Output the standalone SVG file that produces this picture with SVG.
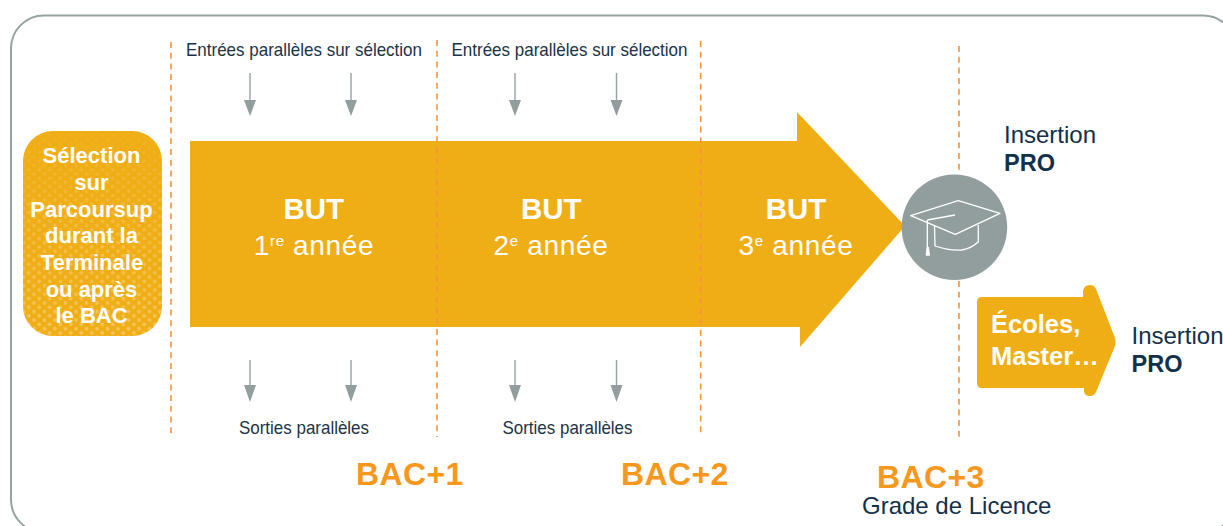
<svg xmlns="http://www.w3.org/2000/svg" width="1223" height="526" viewBox="0 0 1223 526">
<style>
text{font-family:"Liberation Sans",Arial,sans-serif}
.sm{font-size:18.500px;fill:#1b3345;text-anchor:middle}
.dash{stroke:#f4943f;stroke-width:1.6;stroke-dasharray:6 4.700;fill:none}
.ar{stroke:#97a1a1;stroke-width:1.4;fill:none}
.hd{fill:#929e9e}
.but{fill:#fff;font-size:29.500px;font-weight:bold;text-anchor:middle}
.yr{fill:#fff;font-size:28px;text-anchor:middle;letter-spacing:.65px}
.sup{font-size:15px}
.sel{fill:#fff;font-size:22px;font-weight:bold;text-anchor:middle}
.bac{fill:#f7981d;font-size:32px;font-weight:bold;letter-spacing:.4px}
.ins{fill:#11304a;font-size:24px}
.pro{fill:#11304a;font-size:23.500px;font-weight:bold}
.ec{fill:#fff;font-size:25.500px;font-weight:bold}
</style>
<defs>
<pattern id="dots" width="10.500" height="8.600" patternUnits="userSpaceOnUse">
<circle cx="2.500" cy="2" r="1.900" fill="#f9d68e" fill-opacity=".6"/>
<circle cx="7.750" cy="6.300" r="1.900" fill="#f9d68e" fill-opacity=".6"/>
</pattern>
<linearGradient id="fade" x1="0" y1="0" x2="0" y2="1">
<stop offset="0" stop-color="#fff" stop-opacity=".1"/>
<stop offset=".4" stop-color="#fff" stop-opacity=".55"/>
<stop offset="1" stop-color="#fff"/>
</linearGradient>
<mask id="fm"><rect x="23" y="131" width="139" height="205" fill="url(#fade)"/></mask>
</defs>
<rect id="frame" x="11" y="15.500" width="1225" height="517" rx="33" fill="#fff" stroke="#97a3a3" stroke-width="2"/>
<g id="selection">
<rect x="23" y="131" width="139" height="205" rx="30" fill="#f0ae16"/>
<rect x="23" y="131" width="139" height="205" rx="30" fill="url(#dots)" mask="url(#fm)"/>
<text class="sel" x="91.500" y="163">Sélection</text>
<text class="sel" x="91.500" y="190">sur</text>
<text class="sel" x="91.500" y="217">Parcoursup</text>
<text class="sel" x="91.500" y="243">durant la</text>
<text class="sel" x="92" y="270">Terminale</text>
<text class="sel" x="91.500" y="297">ou après</text>
<text class="sel" x="91.500" y="323">le BAC</text>
</g>
<g id="but-arrow">
<path d="M190 141H797V112L905 226L800 347V327H190Z" fill="#f0ae16"/>
<text class="but" x="313.700" y="219">BUT</text>
<text class="yr" x="314" y="255">1<tspan class="sup" dy="-9">re</tspan><tspan dy="9"> année</tspan></text>
<text class="but" x="551.300" y="219">BUT</text>
<text class="yr" x="551" y="255">2<tspan class="sup" dy="-9">e</tspan><tspan dy="9"> année</tspan></text>
<text class="but" x="796" y="219">BUT</text>
<text class="yr" x="796" y="255">3<tspan class="sup" dy="-9">e</tspan><tspan dy="9"> année</tspan></text>
</g>
<g id="connectors">
<path class="dash" d="M171 42V436M437 40V437M700.700 41V436M959 46V172M959 281V439"/>
<path class="ar" d="M250 73V102M351 73V102M515 73V102M616.500 73V102M250 360V388M351 360V388M515 360V388M616.500 360V388"/>
<path class="hd" d="M244 100H256L250 116ZM345 100H357L351 116ZM509 100H521L515 116ZM610.500 100H622.500L616.500 116ZM244 385H256L250 402ZM345 385H357L351 402ZM509 385H521L515 402ZM610.500 385H622.500L616.500 402Z"/>
</g>
<g id="labels-parallel">
<text class="sm" x="304" y="55.500" textLength="236" lengthAdjust="spacingAndGlyphs">Entrées parallèles sur sélection</text>
<text class="sm" x="569.500" y="55.500" textLength="236" lengthAdjust="spacingAndGlyphs">Entrées parallèles sur sélection</text>
<text class="sm" x="304" y="433.500" textLength="130" lengthAdjust="spacingAndGlyphs">Sorties parallèles</text>
<text class="sm" x="567.500" y="433.500" textLength="130" lengthAdjust="spacingAndGlyphs">Sorties parallèles</text>
</g>
<g id="cap">
<circle cx="954.400" cy="227.200" r="52.800" fill="#929e9e"/>
<g fill="none" stroke="#fff" stroke-width="1.300" stroke-linejoin="round">
<path d="M910.700 215.700L958.300 200.700L1000 213.300L955.300 234.300Z"/>
<path d="M927.300 220L955 215M927.300 220V247M934.500 226L935 246Q950 251 961.700 250Q972 248 978.300 241.700V225"/>
<path d="M926 255.300H929.600L928.500 247H927Z" fill="#fff" stroke-width=".8"/>
</g>
</g>
<g id="insertion-1">
<text class="ins" x="1004" y="143">Insertion</text>
<text class="pro" x="1004" y="170.700">PRO</text>
</g>
<g id="ecoles">
<path d="M982 297H1083V291Q1084 285 1090 285Q1094 285 1096 289L1115 338Q1116 342 1115 346L1096 392Q1094 396 1090 396Q1084 396 1084 391V388H982Q977 388 977 383V302Q977 297 982 297Z" fill="#f0ae16"/>
<text class="ec" x="991" y="332.500">Écoles,</text>
<text class="ec" x="991" y="364.500">Master…</text>
</g>
<g id="insertion-2">
<text class="ins" x="1131.500" y="344">Insertion</text>
<text class="pro" x="1131.500" y="371.700">PRO</text>
</g>
<g id="bac">
<text class="bac" x="356" y="485">BAC+1</text>
<text class="bac" x="621" y="485">BAC+2</text>
<text class="bac" x="877" y="487.500">BAC+3</text>
<text x="862" y="514" style="fill:#11304a;font-size:24px">Grade de Licence</text>
</g>
</svg>
